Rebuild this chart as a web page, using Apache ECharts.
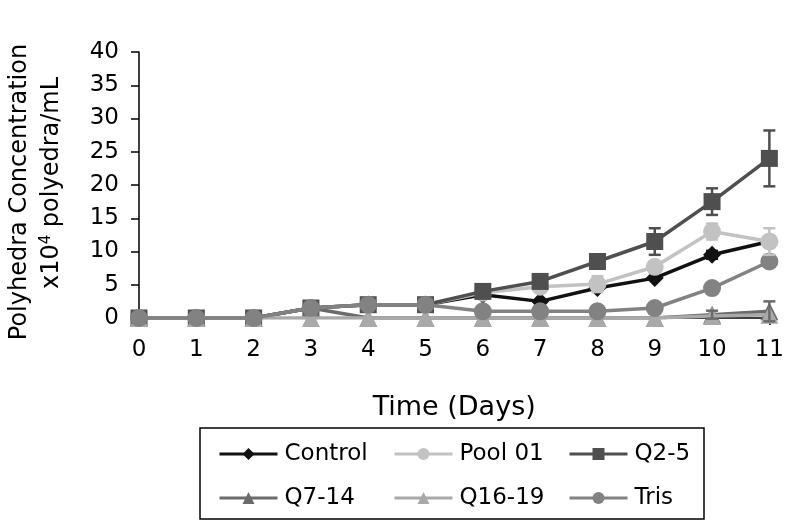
<!DOCTYPE html>
<html><head><meta charset="utf-8">
<script src="https://cdn.jsdelivr.net/npm/echarts@6/dist/echarts.min.js"></script>
<style>html,body{margin:0;padding:0;background:#fff}#c{width:787px;height:521px}</style>
</head><body><div id="c"></div>
<script>
const days = ['0','1','2','3','4','5','6','7','8','9','10','11'];
const yTicks = [0,5,10,15,20,25,30,35,40];
const control = [0,0,0,1.5,2,2,3.5,2.5,4.5,6,9.5,11.5];
const pool01  = [0,0,0,1.5,2,2,3.8,4.7,5.1,7.7,13,11.5];
const q25     = [0,0,0,1.5,2,2,4,5.5,8.5,11.5,17.5,24];
const q714    = [0,0,0,1.5,0,0,0,0,0,0,0.5,1];
const q1619   = [0,0,0,0,0,0,0,0,0,0,0.3,0.5];
const tris    = [0,0,0,1.5,2,2,1,1,1,1.5,4.5,8.5];
const controlErr = [0,0,0,0,0,0,0,0,0,0,0.6,0];
const pool01Err  = [0,0,0,0,0,0,0,0,1.2,0,1.2,2];
const q25Err     = [0,0,0,0,0,0,0,0,0,2,2,4.2];
const q714Err    = [0,0,0,0,0,0,0,0,0,0,0.6,1.5];

const FONT = 'DejaVu Sans';
const chart = echarts.init(document.getElementById('c'));

function lineSeries(name, data, color, symbol, size, z) {
  return {name, type:'line', data, symbol, symbolSize:size, z,
    lineStyle:{color, width:3.5}, itemStyle:{color, borderWidth:0},
    emphasis:{disabled:true}, animation:false};
}
function errSeries(vals, errs, color, z) {
  const d = [];
  vals.forEach((v,i)=>{ if (errs[i] > 0) d.push([i, v-errs[i], v+errs[i]]); });
  return {type:'custom', data:d, z, animation:false, silent:true,
    encode:{x:0, y:[1,2]},
    renderItem(params, api){
      const lo = api.coord([api.value(0), api.value(1)]);
      const hi = api.coord([api.value(0), api.value(2)]);
      const w = 6;
      const st = {stroke:color, lineWidth:2.5};
      return {type:'group', children:[
        {type:'line', shape:{x1:lo[0],y1:lo[1],x2:hi[0],y2:hi[1]}, style:st},
        {type:'line', shape:{x1:lo[0]-w,y1:lo[1],x2:lo[0]+w,y2:lo[1]}, style:st},
        {type:'line', shape:{x1:hi[0]-w,y1:hi[1],x2:hi[0]+w,y2:hi[1]}, style:st}
      ]};
    }};
}
const C = {control:'#111111', pool:'#c2c2c2', q25:'#4f4f4f', q714:'#6b6b6b', q1619:'#a9a9a9', tris:'#828282'};

const legendBase = {orient:'vertical', itemWidth:58, itemHeight:15, itemGap:20,
  lineStyle:{width:3},
  textStyle:{fontFamily:FONT, fontSize:23, color:'#000', lineHeight:24, padding:[0,0,0,2]},
  selectedMode:false};

chart.setOption({
  backgroundColor:'#fff',
  animation:false,
  grid:{left:139, right:12, top:52, bottom:203, containLabel:false},
  xAxis:{type:'category', data:days, boundaryGap:false,
    axisLine:{lineStyle:{color:'#000', width:1.5}},
    axisTick:{show:true, inside:false, length:7, alignWithLabel:true, lineStyle:{color:'#000', width:1.5}},
    axisLabel:{fontFamily:FONT, fontSize:23, color:'#000', margin:21},
    splitLine:{show:false},
    name:'Time (Days)', nameLocation:'middle', nameGap:76,
    nameTextStyle:{fontFamily:FONT, fontSize:27, color:'#000'}},
  yAxis:{type:'value', min:yTicks[0], max:yTicks[yTicks.length-1], interval:5,
    axisLine:{show:true, lineStyle:{color:'#000', width:1.5}},
    axisTick:{show:true, length:8, lineStyle:{color:'#000', width:1.5}},
    axisLabel:{fontFamily:FONT, fontSize:23, color:'#000', margin:20},
    splitLine:{show:false}},
  legend:[
    Object.assign({}, legendBase, {left:213, top:437, data:['Control','Q7-14']}),
    Object.assign({}, legendBase, {left:388, top:437, data:['Pool 01','Q16-19']}),
    Object.assign({}, legendBase, {left:563, top:437, data:['Q2-5','Tris']})
  ],
  graphic:[
    {type:'rect', shape:{x:200, y:428, width:504, height:91}, style:{fill:'none', stroke:'#000', lineWidth:1.5}},
    {type:'text', x:20, y:192, rotation:Math.PI/2, style:{text:'Polyhedra Concentration', font:'24px "DejaVu Sans"', fill:'#000', align:'center', verticalAlign:'middle'}},
    {type:'text', x:52, y:183, rotation:Math.PI/2, style:{text:'x10{s|4} polyedra/mL', font:'24px "DejaVu Sans"', fill:'#000', align:'center', verticalAlign:'middle',
      rich:{s:{fontSize:15, fontFamily:FONT, verticalAlign:'top', padding:[0,0,12,0]}}}}
  ],
  series:[
    lineSeries('Control', control, C.control, 'diamond', 18, 2),
    lineSeries('Pool 01', pool01, C.pool, 'circle', 18, 3),
    lineSeries('Q2-5', q25, C.q25, 'rect', 17, 4),
    lineSeries('Q7-14', q714, C.q714, 'triangle', 18, 5),
    lineSeries('Q16-19', q1619, C.q1619, 'triangle', 18, 6),
    lineSeries('Tris', tris, C.tris, 'circle', 18, 7),
    errSeries(control, controlErr, C.control, 8),
    errSeries(pool01, pool01Err, C.pool, 8),
    errSeries(q25, q25Err, C.q25, 8),
    errSeries(q714, q714Err, C.q714, 8)
  ]
});
</script></body></html>
